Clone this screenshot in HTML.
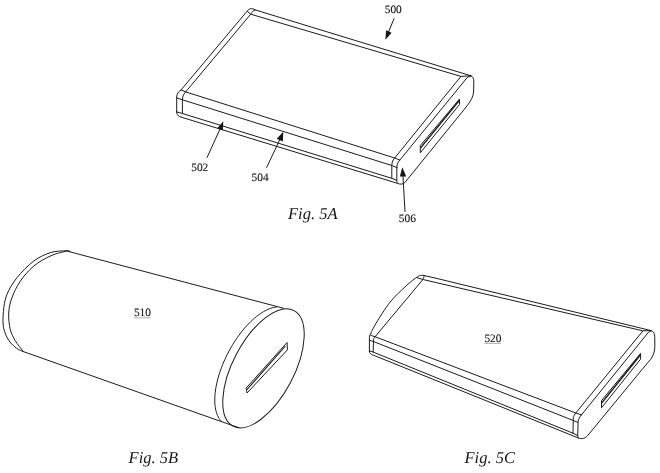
<!DOCTYPE html>
<html><head><meta charset="utf-8">
<style>
html,body{margin:0;padding:0;background:#fff;}
body{width:660px;height:473px;overflow:hidden;}
svg{display:block;will-change:transform;}
text{font-family:"Liberation Serif",serif;fill:#151515;text-rendering:geometricPrecision;}
</style></head><body>
<svg width="660" height="473" viewBox="0 0 660 473">
<rect width="660" height="473" fill="#fff"/>
<g fill="none" stroke="#1c1c1c" stroke-width="1.0" stroke-linejoin="round" stroke-linecap="round">

<path d="M176.7,112 L176.7,97 C176.7,94 178.5,91.5 181.1,89.9 L247.6,10.6 C249,8.5 252,7.8 255.2,9.9 L470.9,75.8 C473,77 473.8,78.5 473.8,81 L473.6,92 C473.3,96 471,101 467.1,105.8 L404.9,182.5 C403,184.5 400,184.5 397.7,183.4 L179.7,116.7 C177.5,115.5 176.7,114 176.7,112 Z"/>
<path d="M181.1,89.9 L185.7,91.9 L394.7,158 L399.8,160.1"/>
<path d="M185.7,91.9 L250.7,14.2 C252,12 253,10.5 255.2,9.9"/>
<path d="M247.6,11.6 L250.7,14.2 L460.9,76.4 L470.9,75.8"/>
<path d="M460.9,76.4 L394.7,158"/>
<path d="M470.9,76.2 Q469,76.5 467.4,77.3 L399.8,160.1"/>
<path d="M394.7,158 C393,159.5 392,162 391.8,165.2 L391.8,178.3"/>
<path d="M399.8,160.1 C398.3,161.5 397,164 396.8,167 L396.8,181.3 Q397,183 397.7,183.4"/>
<path d="M176.8,98 L182.7,99.9 L392.2,165.6 L397.3,167.8"/>
<path d="M185.7,91.9 C184,93.5 182.6,96 182.4,99.3 L182.4,113.5"/>
<path d="M177,112 L182.4,113.5 L391.8,178.3 L396.8,180.4"/>
<path d="M459.5,99.4 L459.5,104.5 L420.3,152.8 L420.3,146 Z"/>
<path d="M459,100.9 L420.8,147.6" stroke-width="1.5"/>
<path d="M394,18.8 L388.3,32.4"/>
<path d="M207.1,157.4 L220.5,128"/>
<path d="M266.7,167.4 L280.3,138.5"/>
<path d="M405,211.5 L402.9,175"/>

</g>
<g fill="#151515" stroke="none">
<path d="M385.40,39.70 L386.09,30.27 L391.61,32.80 Z"/>
<path d="M223.30,121.20 L217.32,128.33 L222.84,130.52 Z"/>
<path d="M283.30,131.70 L276.75,138.83 L282.84,141.47 Z"/>
<path d="M402.30,167.30 L399.88,176.62 L406.21,176.62 Z"/>
</g>
<g fill="none" stroke="#1c1c1c" stroke-width="1.0" stroke-linejoin="round" stroke-linecap="round">

<path d="M70.00,251.30 C69.33,251.22 69.20,250.60 66.00,250.80 C62.80,251.00 56.17,250.80 50.80,252.50 C45.43,254.20 39.45,256.78 33.80,261.00 C28.15,265.22 21.40,272.17 16.90,277.80 C12.40,283.43 9.05,289.15 6.80,294.80 C4.55,300.45 3.93,306.18 3.40,311.70 C2.87,317.22 2.68,323.08 3.60,327.90 C4.52,332.72 6.75,337.22 8.90,340.60 C11.05,343.98 14.18,346.40 16.50,348.20 C18.82,350.00 21.75,350.87 22.80,351.40"/>
<path d="M66.00,251.20 C63.47,251.97 56.17,253.33 50.80,255.80 C45.43,258.27 38.88,261.77 33.80,266.00 C28.72,270.23 23.97,275.85 20.30,281.20 C16.63,286.55 13.73,292.80 11.80,298.10 C9.87,303.40 8.97,307.82 8.70,313.00 C8.43,318.18 9.12,324.60 10.20,329.20 C11.28,333.80 13.10,337.00 15.20,340.60 C17.30,344.20 21.53,349.10 22.80,350.80"/>
<path d="M66,250.8 L283.7,308.3"/>
<path d="M22.8,351.4 L238.1,427.5"/>
<path d="M276.62,306.96 L275.08,307.17 L273.50,307.49 L271.89,307.92 L270.25,308.46 L268.58,309.11 L266.88,309.87 L265.16,310.74 L263.42,311.72 L261.67,312.80 L259.91,313.98 L258.14,315.26 L256.36,316.64 L254.58,318.12 L252.80,319.68 L251.03,321.34 L249.27,323.08 L247.52,324.90 L245.78,326.81 L244.06,328.78 L242.37,330.83 L240.70,332.95 L239.05,335.13 L237.44,337.37 L235.87,339.67 L234.33,342.02 L232.83,344.41 L231.37,346.85 L229.96,349.32 L228.60,351.83 L227.29,354.36 L226.04,356.91 L224.84,359.49 L223.70,362.07 L222.62,364.67 L221.60,367.27 L220.65,369.86 L219.76,372.45 L218.94,375.03 L218.19,377.59 L217.51,380.13 L216.91,382.64 L216.38,385.13 L215.92,387.57 L215.54,389.98 L215.24,392.34 L215.01,394.65 L214.86,396.91 L214.79,399.11 L214.79,401.24 L214.87,403.31 L215.03,405.31 L215.27,407.23 L215.58,409.08 L215.97,410.84 L216.44,412.52 L216.98,414.12 L217.59,415.62 L218.28,417.02 L219.04,418.33 L219.86,419.54 L220.76,420.65 L221.72,421.66"/>
<ellipse cx="263.49" cy="368.33" rx="65.27" ry="30.55" transform="rotate(-62.19 263.49 368.33)"/>
<path d="M287.1,342.9 L287.4,349.9 L247,393 L246.2,388.5 Z"/>
<path d="M285,346.5 L247,389.5" stroke-width="1.1"/>

</g>
<g fill="none" stroke="#1c1c1c" stroke-width="1.0" stroke-linejoin="round" stroke-linecap="round">

<path d="M369.4,351.6 L369.4,337.2 C369.6,335.5 370,334.5 370.8,333.6"/>
<path d="M370.80,333.60 C371.03,333.05 371.05,332.48 372.20,330.30 C373.35,328.12 375.28,324.43 377.70,320.50 C380.12,316.57 384.07,310.42 386.70,306.70 C389.33,302.98 390.97,301.02 393.50,298.20 C396.03,295.38 399.08,292.48 401.90,289.80 C404.72,287.12 407.87,284.22 410.40,282.10 C412.93,279.98 415.42,278.22 417.10,277.10 C418.78,275.98 419.35,275.67 420.50,275.40 C421.65,275.13 423.42,275.48 424.00,275.50"/>
<path d="M424,275.5 L435,278 L651.1,330.6 C652.5,331 653.6,332 654,333 C654.7,335 654.8,337 654.8,340 L654.8,347.5 C654.6,351 653.8,353.5 652.7,356 C651.5,358.5 650,360.5 648,362.3 L587.9,435.3 C586,437.5 584.5,438.5 582.3,438.6 C580.5,438.6 579.5,438.4 578.6,438.1 L373.4,355.2 C371.5,354.5 370.5,354 370.5,353.7 C369.7,353 369.4,352.5 369.4,351.6"/>
<path d="M370.8,335.4 L375.2,336.8 L575.8,413 L581.4,414.9"/>
<path d="M375.2,336.6 L422.8,279.6 C423.5,278 424.5,276.5 424,275.5"/>
<path d="M417,277.7 L423.4,279.6 L642.7,330.8 L651.1,330.6"/>
<path d="M642.7,331.1 L575.8,413"/>
<path d="M651.1,330.9 Q650,331.5 648.5,332.2 L581.4,414.9"/>
<path d="M375.2,336.8 C374.3,337.5 373.7,338.3 373.5,339.4 L373.2,352"/>
<path d="M369.8,340.4 L373.4,341.5 L573,420.4 L577.7,422.3"/>
<path d="M369.8,350.9 L373,352 L573,433.2 L577.7,435.6"/>
<path d="M575.8,413 C574.5,414.5 573.7,416 573.3,417.7 L573,433.5"/>
<path d="M581.4,414.9 C579.8,416.5 578.5,419 578.1,421.4 L577.7,436.2 Q578,437.8 578.6,438.1"/>
<path d="M640.6,353.8 L640.6,359.1 L601.5,407.8 L601.5,401 Z"/>
<path d="M640.1,355.3 L602,402.6" stroke-width="1.5"/>

</g>
<g font-size="11.4" stroke="#151515" stroke-width="0.12">
<text x="384.7" y="13">500</text>
<text x="191.2" y="171.1">502</text>
<text x="251.6" y="181.3">504</text>
<text x="398.8" y="222.2">506</text>
<text x="133.9" y="315.7">510</text>
<text x="484.4" y="341.6">520</text>
</g>
<path d="M133.8,317.8 L150.5,317.8 M484.3,343.4 L501,343.4" stroke="#b0b0b0" stroke-width="1"/>
<g font-size="16.5" font-style="italic">
<text x="288" y="219.2">Fig. 5A</text>
<text x="128.6" y="463">Fig. 5B</text>
<text x="464.5" y="463.2">Fig. 5C</text>
</g>
</svg>
</body></html>
